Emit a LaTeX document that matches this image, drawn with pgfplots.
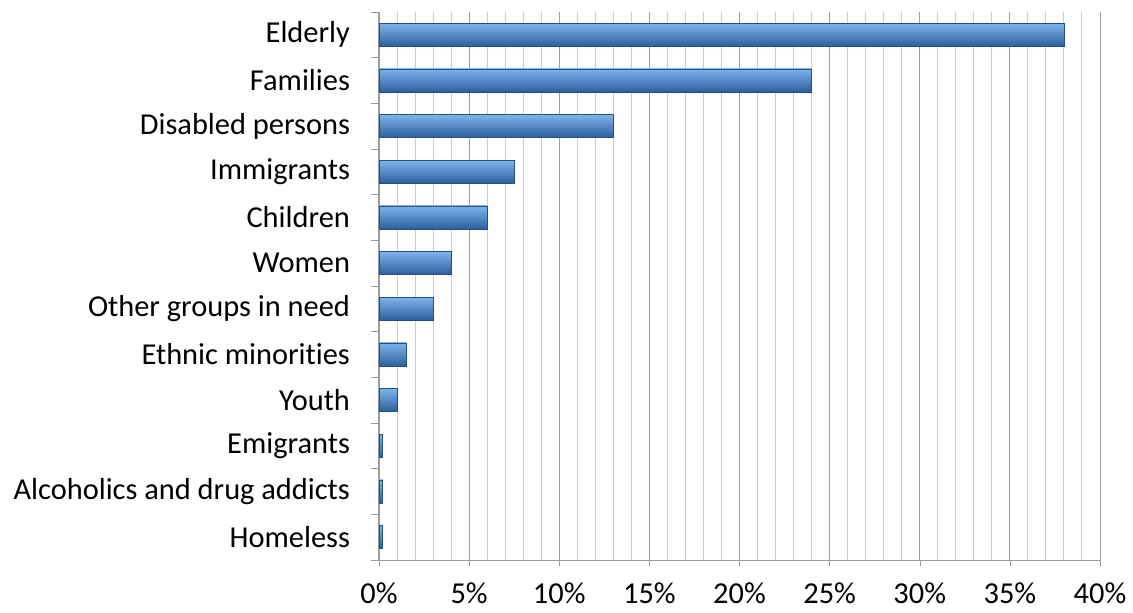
\documentclass[border=0pt]{standalone}
\usepackage{pgfplots}
\pgfplotsset{compat=1.18}
\usepackage{fontspec}
\setmainfont{Carlito}[Ligatures=NoCommon]
\definecolor{bartop}{HTML}{7DB4EC}
\definecolor{barmid}{HTML}{4A88D2}
\definecolor{barbot}{HTML}{2C5E9F}
\definecolor{baredge}{HTML}{24507F}
\begin{document}
\begin{tikzpicture}
\path[use as bounding box] (-189.5pt,-26.5pt) rectangle (377pt,280pt);
\begin{axis}[
  scale only axis, width=360.5pt, height=274pt,
  xmin=0, xmax=40, ymin=-0.5, ymax=11.5,
  axis x line=bottom, axis y line=left,
  axis line style={draw=gray!80, -},
  xbar, bar width=11.5pt, bar shift=0pt,
  every axis plot post/.append style={draw=baredge, line width=0.4pt, top color=bartop, middle color=barmid, bottom color=barbot},
  xtick={0,5,...,40},
  minor x tick num=4,
  xmajorgrids, xminorgrids,
  major grid style={draw=gray!75, line width=0.5pt},
  minor grid style={draw=gray!40, line width=0.5pt},
  tick align=outside,
  major tick length=3pt, minor tick length=0pt,
  xtick style={draw=gray!80},
  xticklabel={\pgfmathprintnumber{\tick}\%},
  /pgf/number format/assume math mode=true,
  ticklabel style={font=\fontsize{15.2}{18}\selectfont, text=black},
  xticklabel style={yshift=-5pt},
  ytick={0,...,11},
  yticklabels={Homeless, Alcoholics and drug addicts, Emigrants, Youth, Ethnic minorities, Other groups in need, Women, Children, Immigrants, Disabled persons, Families, Elderly},
  ytick style={draw=none},
  yticklabel style={xshift=-8pt},
  extra y ticks={-0.5,0.5,...,11.5},
  extra y tick labels={},
  extra y tick style={major tick length=4pt, ytick style={draw=gray!80}, yticklabel style={xshift=0pt}},
]
\addplot coordinates {(0.2,0)};
\addplot coordinates {(0.2,1)};
\addplot coordinates {(0.2,2)};
\addplot coordinates {(1.0,3)};
\addplot coordinates {(1.5,4)};
\addplot coordinates {(3.0,5)};
\addplot coordinates {(4.0,6)};
\addplot coordinates {(6.0,7)};
\addplot coordinates {(7.5,8)};
\addplot coordinates {(13.0,9)};
\addplot coordinates {(24.0,10)};
\addplot coordinates {(38.0,11)};
\end{axis}
\end{tikzpicture}
\end{document}
